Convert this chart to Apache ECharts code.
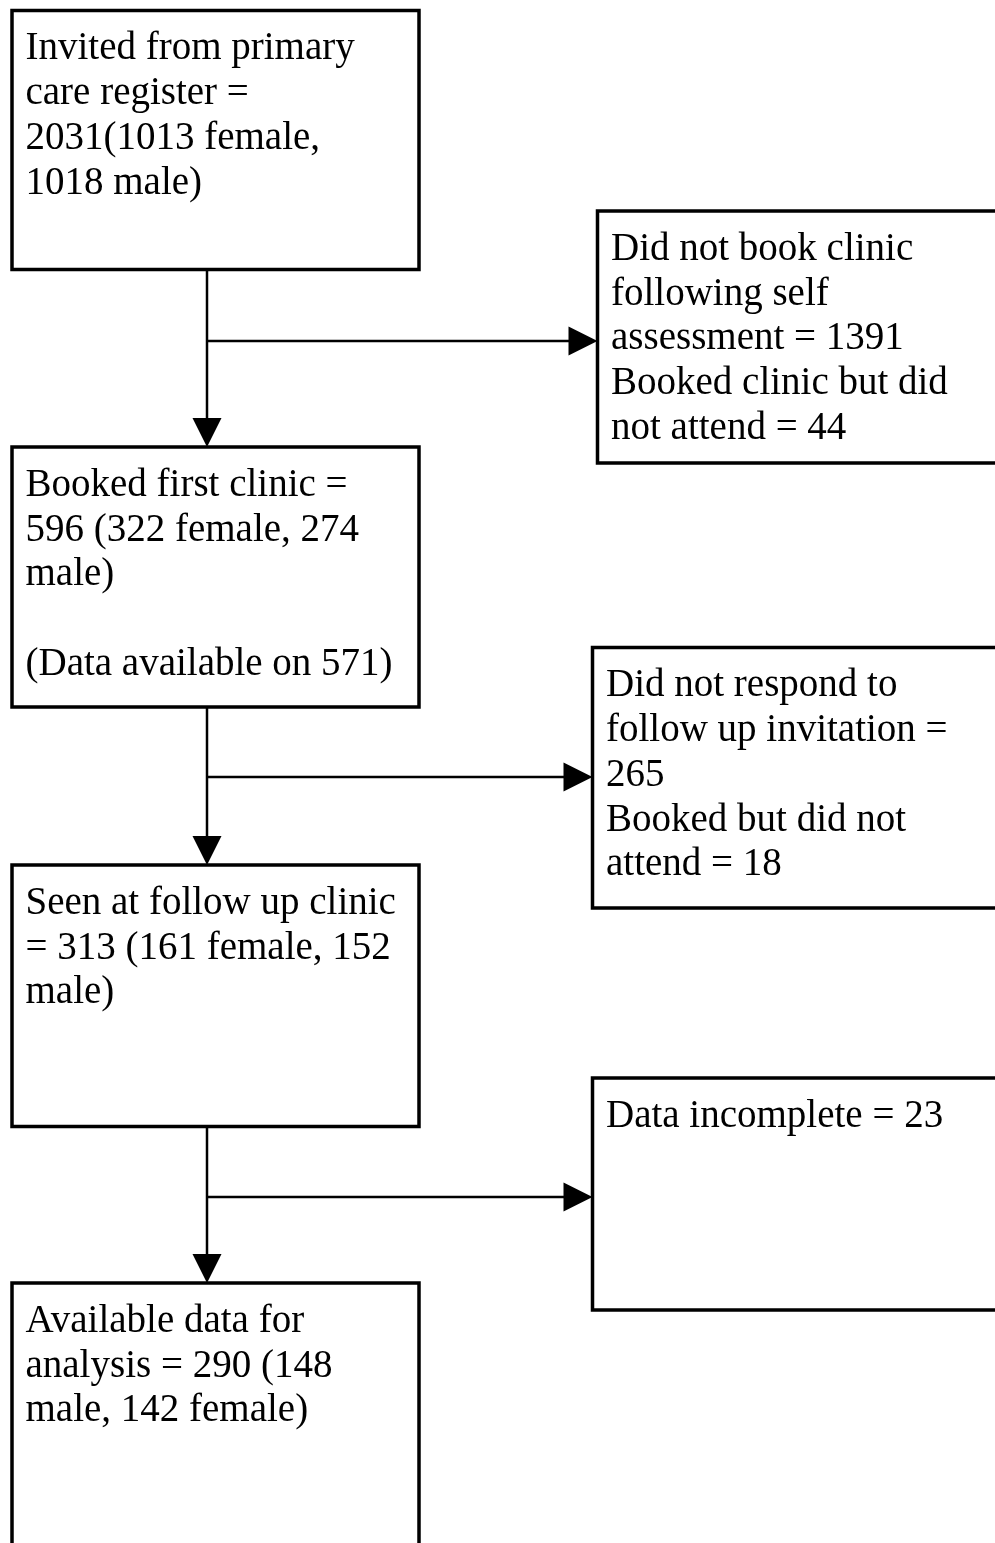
<!DOCTYPE html>
<html>
<head>
<meta charset="utf-8">
<script src="https://cdn.jsdelivr.net/npm/echarts@6/dist/echarts.min.js"></script>
<style>
  html, body { margin: 0; padding: 0; background: #ffffff; }
  #chart { width: 995px; height: 1543px; }
</style>
</head>
<body>
<div id="chart"></div>
<script>
// ---- Data: text of each flow step (main column) ----
const mainBoxText = [
  ["Invited from primary", "care register =", "2031(1013 female,", "1018 male)"],
  ["Booked first clinic =", "596 (322 female, 274", "male)", "", "(Data available on 571)"],
  ["Seen at follow up clinic", "= 313 (161 female, 152", "male)"],
  ["Available data for", "analysis = 290 (148", "male, 142 female)"]
];
// ---- Data: text of each exclusion box (right column) ----
const exclusionText = [
  ["Did not book clinic", "following self", "assessment = 1391", "Booked clinic but did", "not attend = 44"],
  ["Did not respond to", "follow up invitation =", "265", "Booked but did not", "attend = 18"],
  ["Data incomplete = 23"]
];

// ---- Layout (positions in page units; kept apart from the data) ----
const mainLeft = 12, mainRight = 419, spineX = 207;
const mainTops = [10.5, 447, 865, 1283];
const mainBottoms = [269.5, 707, 1126.5, 1570];
const sideLefts = [597.5, 592.5, 592.5];
const sideRight = 1012;
const sideTops = [211, 647.5, 1078];
const sideBottoms = [463, 908, 1310];
const branchYs = [341, 777, 1197];
const textPadX = 13.5, textPadY = 16.3;
const FONT = '39px "Liberation Serif", "Times New Roman", serif';
const LINE_H = 44.7;
const ARROW_LEN = 29, ARROW_HALF = 14.5;

function boxRenderer(lefts, rights, tops, bottoms, texts) {
  return function (params, api) {
    const i = params.dataIndex;
    const l = typeof lefts === 'number' ? lefts : lefts[i];
    const r = typeof rights === 'number' ? rights : rights[i];
    const p0 = api.coord([l, tops[i]]);
    const p1 = api.coord([r, bottoms[i]]);
    const t0 = api.coord([l + textPadX, tops[i] + textPadY]);
    return {
      type: 'group',
      children: [
        {
          type: 'rect',
          shape: { x: p0[0], y: p0[1], width: p1[0] - p0[0], height: p1[1] - p0[1] },
          style: { fill: '#ffffff', stroke: '#000000', lineWidth: 3.5 }
        },
        {
          type: 'text',
          style: {
            text: texts[i].join('\n'),
            x: t0[0], y: t0[1],
            font: FONT,
            fill: '#000000',
            lineHeight: LINE_H,
            align: 'left',
            verticalAlign: 'top'
          }
        }
      ]
    };
  };
}

function connectorRenderer(params, api) {
  const i = params.dataIndex;
  const a = api.coord([spineX, mainBottoms[i]]);
  const tipDown = api.coord([spineX, mainTops[i + 1]]);
  const b = api.coord([spineX, branchYs[i]]);
  const tipRight = api.coord([sideLefts[i], branchYs[i]]);
  const lineStyle = { stroke: '#000000', lineWidth: 2.5 };
  return {
    type: 'group',
    children: [
      { type: 'line', shape: { x1: a[0], y1: a[1], x2: tipDown[0], y2: tipDown[1] - ARROW_LEN + 1 }, style: lineStyle },
      { type: 'polygon', shape: { points: [
          [tipDown[0] - ARROW_HALF, tipDown[1] - ARROW_LEN],
          [tipDown[0] + ARROW_HALF, tipDown[1] - ARROW_LEN],
          [tipDown[0], tipDown[1]]
        ] }, style: { fill: '#000000' } },
      { type: 'line', shape: { x1: b[0], y1: b[1], x2: tipRight[0] - ARROW_LEN + 1, y2: tipRight[1] }, style: lineStyle },
      { type: 'polygon', shape: { points: [
          [tipRight[0] - ARROW_LEN, tipRight[1] - ARROW_HALF],
          [tipRight[0] - ARROW_LEN, tipRight[1] + ARROW_HALF],
          [tipRight[0], tipRight[1]]
        ] }, style: { fill: '#000000' } }
    ]
  };
}

const chart = echarts.init(document.getElementById('chart'), null, { renderer: 'canvas' });
chart.setOption({
  backgroundColor: '#ffffff',
  animation: false,
  grid: { left: 0, right: 0, top: 0, bottom: 0 },
  xAxis: { type: 'value', min: 0, max: 995, show: false },
  yAxis: { type: 'value', min: 0, max: 1543, inverse: true, show: false },
  tooltip: { show: false },
  series: [
    {
      type: 'custom', name: 'main',
      renderItem: boxRenderer(mainLeft, mainRight, mainTops, mainBottoms, mainBoxText),
      data: mainBoxText.map((_, i) => i),
      silent: true
    },
    {
      type: 'custom', name: 'exclusions',
      renderItem: boxRenderer(sideLefts, sideRight, sideTops, sideBottoms, exclusionText),
      data: exclusionText.map((_, i) => i),
      silent: true
    },
    {
      type: 'custom', name: 'connectors',
      renderItem: connectorRenderer,
      data: exclusionText.map((_, i) => i),
      silent: true
    }
  ]
});
</script>
</body>
</html>
